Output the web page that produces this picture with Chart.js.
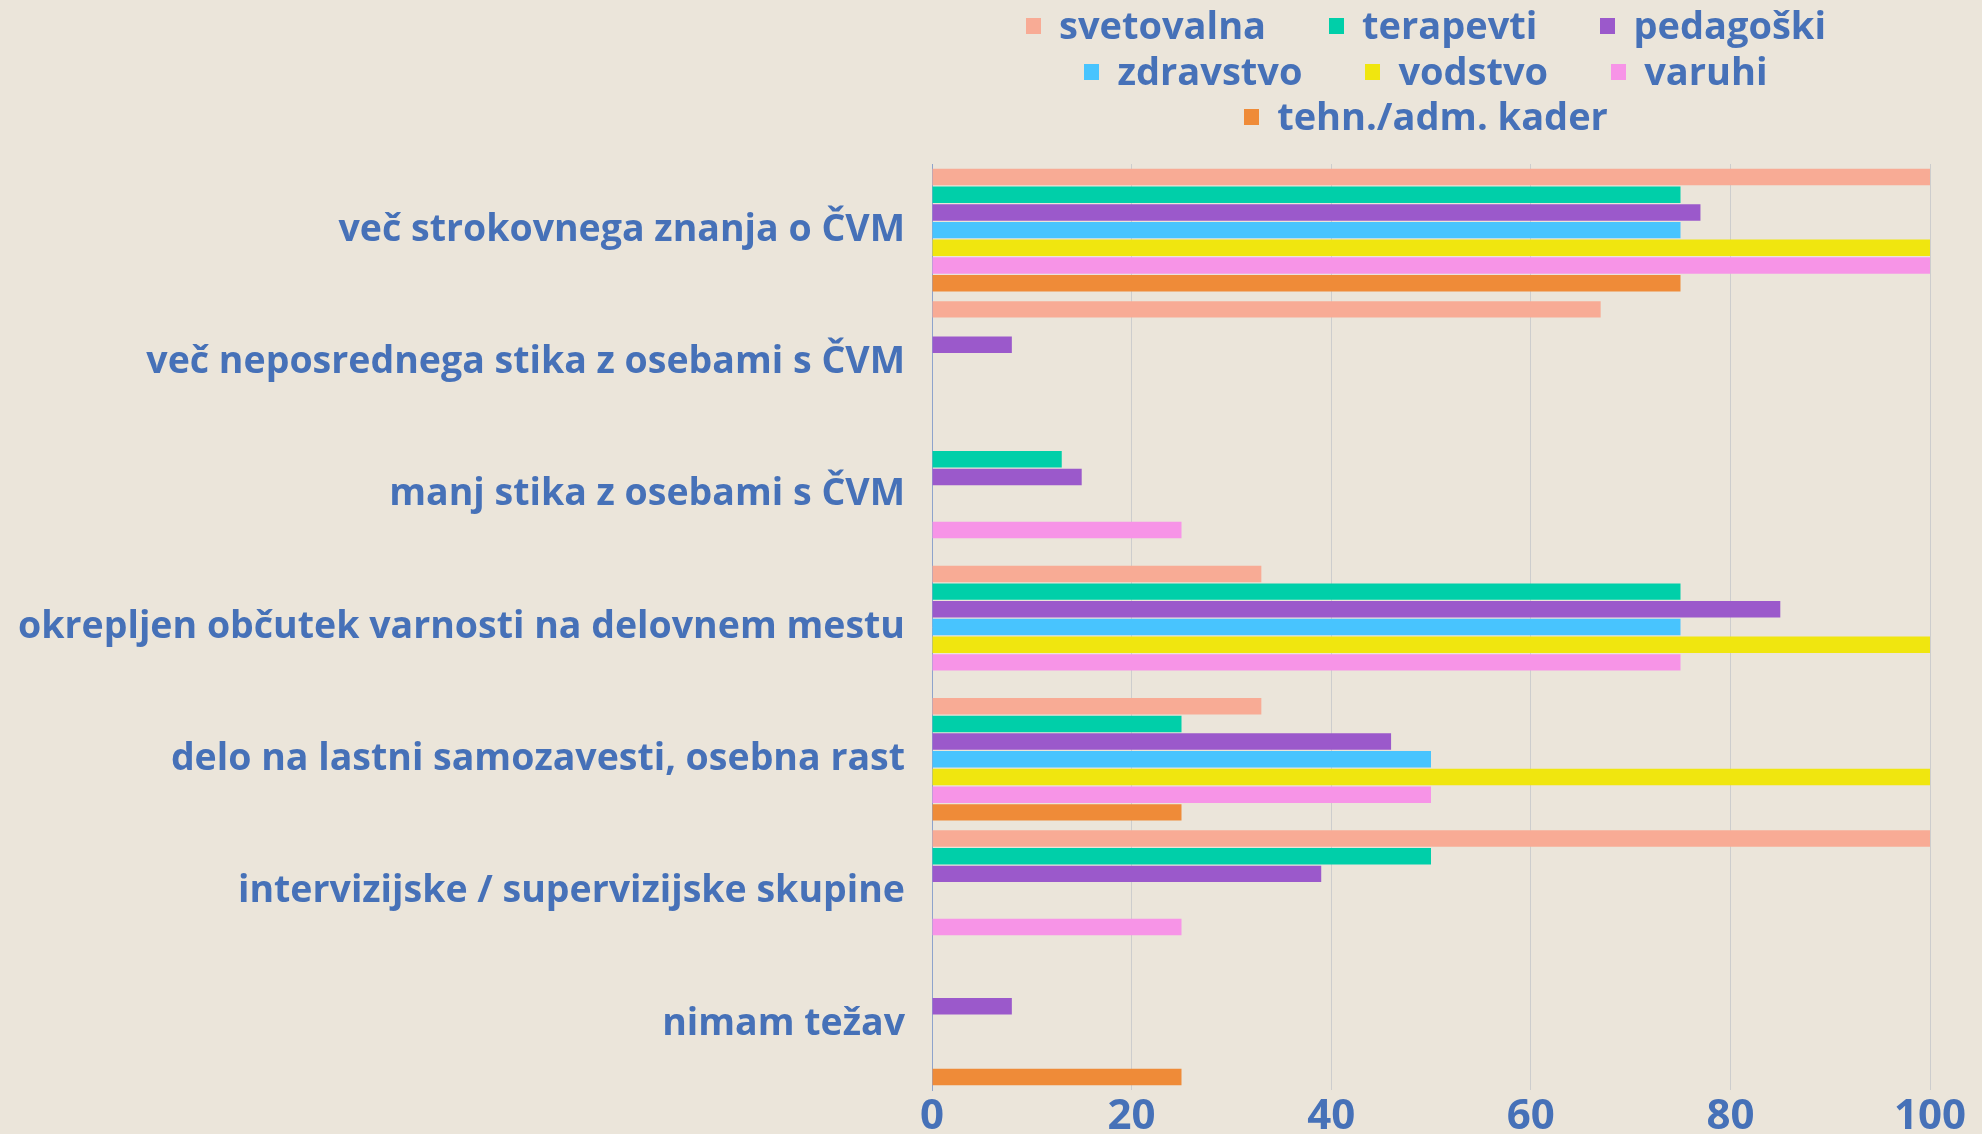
<!DOCTYPE html>
<html>
<head>
<meta charset="utf-8">
<script src="https://cdn.jsdelivr.net/npm/chart.js@4.4.0/dist/chart.umd.min.js"></script>
<style>
  html, body { margin: 0; padding: 0; background: #ebe5da; }
  #wrap { position: relative; width: 1982px; height: 1134px; overflow: hidden; }
  #legend {
    position: absolute; top: 2px; left: 1006px; width: 840px;
    display: flex; flex-wrap: wrap; justify-content: center; column-gap: 63px;
    font: 700 38px 'Open Sans', sans-serif; color: #4671b8; line-height: 45.5px;
  }
  #legend .item { display: flex; align-items: center; white-space: nowrap; }
  #legend .box { width: 15px; height: 16px; margin-right: 18px; margin-top: 3px; }
</style>
</head>
<body>
<div id="wrap">
  <canvas id="chart1" width="1982" height="1134"></canvas>
  <div id="legend"></div>
</div>
<script>
"use strict";

var categories = [
  'več strokovnega znanja o ČVM',
  'več neposrednega stika z osebami s ČVM',
  'manj stika z osebami s ČVM',
  'okrepljen občutek varnosti na delovnem mestu',
  'delo na lastni samozavesti, osebna rast',
  'intervizijske / supervizijske skupine',
  'nimam težav'
];
var seriesNames = ['svetovalna', 'terapevti', 'pedagoški', 'zdravstvo', 'vodstvo', 'varuhi', 'tehn./adm. kader'];

var svetovalna = [100, 67, 0, 33, 33, 100, 0];
var terapevti  = [75, 0, 13, 75, 25, 50, 0];
var pedagoski  = [77, 8, 15, 85, 46, 39, 8];
var zdravstvo  = [75, 0, 0, 75, 50, 0, 0];
var vodstvo    = [100, 0, 0, 100, 100, 0, 0];
var varuhi     = [100, 0, 25, 75, 50, 25, 0];
var tehnAdm    = [75, 0, 0, 0, 25, 0, 25];

var xTicks = [0, 20, 40, 60, 80, 100];

var seriesData = [svetovalna, terapevti, pedagoski, zdravstvo, vodstvo, varuhi, tehnAdm];
var colors = ['#f8ab95', '#00cfa9', '#9b59cb', '#48c4fe', '#f0e60f', '#f794e7', '#ef8b38'];

var textColor = '#4671b8';

var datasets = [];
for (var i = 0; i < seriesNames.length; i++) {
  datasets.push({
    label: seriesNames[i],
    data: seriesData[i],
    backgroundColor: colors[i],
    borderWidth: 0,
    barPercentage: 0.93,
    categoryPercentage: 0.936
  });
}

// html legend, laid out in rows like the original
var legendEl = document.getElementById('legend');
for (var j = 0; j < seriesNames.length; j++) {
  var item = document.createElement('div');
  item.className = 'item';
  var box = document.createElement('span');
  box.className = 'box';
  box.style.background = colors[j];
  var txt = document.createElement('span');
  txt.textContent = seriesNames[j];
  item.appendChild(box);
  item.appendChild(txt);
  legendEl.appendChild(item);
}

var ctx = document.getElementById('chart1').getContext('2d');
var myChart = new Chart(ctx, {
  type: 'bar',
  data: {
    labels: categories,
    datasets: datasets
  },
  options: {
    indexAxis: 'y',
    responsive: false,
    animation: false,
    devicePixelRatio: 1,
    layout: {
      padding: { top: 164, right: 52, left: 0, bottom: 0 }
    },
    plugins: {
      legend: { display: false },
      tooltip: { enabled: false }
    },
    scales: {
      x: {
        min: 0,
        max: 100,
        afterBuildTicks: function (scale) {
          scale.ticks = xTicks.map(function (v) { return { value: v }; });
        },
        afterFit: function (scale) { scale.height = 44; },
        grid: { color: '#cdcdcd', lineWidth: 1, drawTicks: false },
        border: { display: false },
        ticks: {
          padding: 2,
          color: textColor,
          font: { family: 'Open Sans', size: 42, weight: 'bold' }
        }
      },
      y: {
        afterFit: function (scale) {
          scale.width = 932;
          scale.paddingTop = 0;
          scale.paddingBottom = 0;
        },
        grid: { display: false, drawTicks: false },
        border: { display: true, color: '#8ea3cc', width: 1 },
        ticks: {
          padding: 27,
          color: textColor,
          font: { family: 'Open Sans', size: 37.5, weight: 'bold' }
        }
      }
    }
  }
});
</script>
</body>
</html>
